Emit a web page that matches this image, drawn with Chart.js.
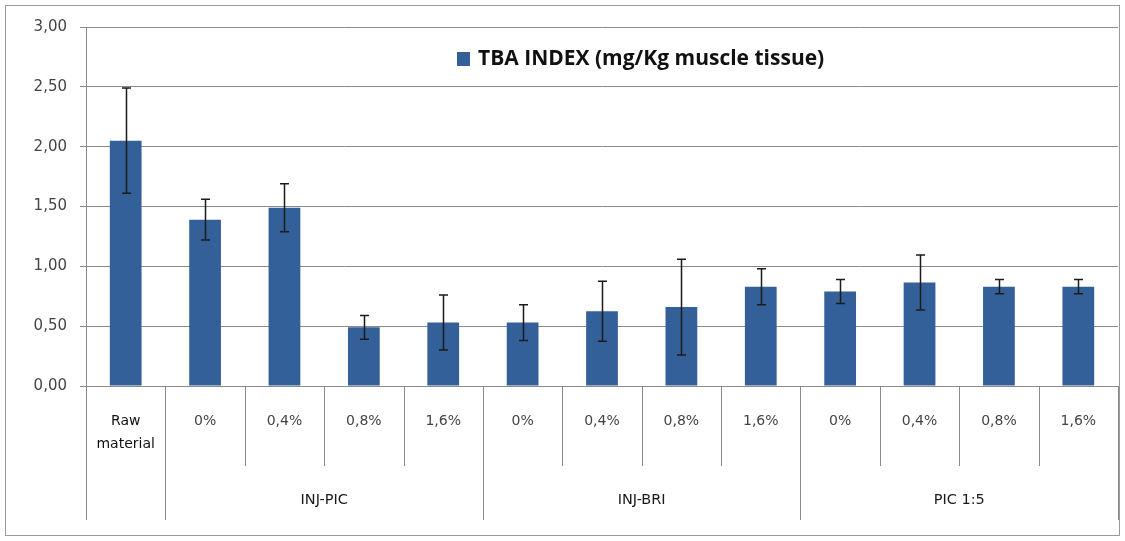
<!DOCTYPE html>
<html>
<head>
<meta charset="utf-8">
<script src="https://cdn.jsdelivr.net/npm/chart.js@4/dist/chart.umd.min.js"></script>
<style>
  html, body { margin: 0; padding: 0; background: #fff; }
  #wrap { width: 1125px; height: 541px; position: relative; }
</style>
</head>
<body>
<div id="wrap"><canvas id="myChart" width="1125" height="541"></canvas></div>
<script>
var categories = [['Raw', 'material'], '0%', '0,4%', '0,8%', '1,6%', '0%', '0,4%', '0,8%', '1,6%', '0%', '0,4%', '0,8%', '1,6%'];
var groupNames = ['INJ-PIC', 'INJ-BRI', 'PIC 1:5'];
var groupStart = [1, 5, 9];
var groupEnd = [5, 9, 13];
var tbaValues = [2.05, 1.39, 1.49, 0.49, 0.53, 0.53, 0.625, 0.66, 0.83, 0.79, 0.865, 0.83, 0.83];
var tbaErrors = [0.44, 0.17, 0.2, 0.1, 0.23, 0.15, 0.25, 0.4, 0.15, 0.1, 0.23, 0.06, 0.06];
var seriesName = 'TBA INDEX (mg/Kg muscle tissue)';
var barColor = '#34609a';
var lineGray = '#8a8a8a';
var baseFont = '"DejaVu Sans", Verdana, sans-serif';

// border round the whole picture
var frame = {
    id: 'frame',
    beforeDraw: function(chart) {
        var c = chart.ctx;
        c.save();
        c.strokeStyle = '#9a9a9a';
        c.lineWidth = 1;
        c.strokeRect(5.5, 5.5, 1114, 530);
        c.restore();
    }
};

// error bars
var errorBars = {
    id: 'errorBars',
    afterDatasetsDraw: function(chart) {
        var c = chart.ctx;
        var y = chart.scales.y;
        var meta = chart.getDatasetMeta(0);
        c.save();
        c.strokeStyle = '#1b1b1b';
        c.lineWidth = 1.5;
        meta.data.forEach(function(bar, i) {
            var top = y.getPixelForValue(tbaValues[i] + tbaErrors[i]);
            var bot = y.getPixelForValue(tbaValues[i] - tbaErrors[i]);
            var x = Math.round(bar.x) + 0.5;
            c.beginPath();
            c.moveTo(x, top); c.lineTo(x, bot);
            c.moveTo(x - 4.5, top); c.lineTo(x + 4.5, top);
            c.moveTo(x - 4.5, bot); c.lineTo(x + 4.5, bot);
            c.stroke();
        });
        c.restore();
    }
};

// category separators, group labels and legend
var axisGroups = {
    id: 'axisGroups',
    afterDraw: function(chart) {
        var c = chart.ctx;
        var area = chart.chartArea;
        var n = categories.length;
        var w = (area.right - area.left) / n;
        c.save();
        c.strokeStyle = lineGray;
        c.lineWidth = 1;
        for (var i = 0; i <= n; i++) {
            var xb = Math.round(area.left + i * w) + 0.5;
            var long = i === 0 || groupStart.indexOf(i) >= 0 || i === n;
            c.beginPath();
            c.moveTo(xb, area.bottom);
            c.lineTo(xb, long ? 520 : 466);
            c.stroke();
        }
        c.fillStyle = '#1a1a1a';
        c.font = '14.5px ' + baseFont;
        c.textAlign = 'center';
        c.textBaseline = 'middle';
        for (var g = 0; g < groupNames.length; g++) {
            var cx = area.left + (groupStart[g] + groupEnd[g]) / 2 * w;
            c.fillText(groupNames[g], cx, 500);
        }
        // legend
        c.fillStyle = barColor;
        c.fillRect(457, 52, 13, 14);
        c.fillStyle = '#111';
        c.font = 'bold 21px "Open Sans", Lato, sans-serif';
        c.textAlign = 'left';
        c.fillText(seriesName, 478, 59);
        c.restore();
    }
};

var ctx = document.getElementById('myChart').getContext('2d');
var myChart = new Chart(ctx, {
    type: 'bar',
    data: {
        labels: categories,
        datasets: [{
            label: seriesName,
            data: tbaValues,
            backgroundColor: barColor,
            borderWidth: 0,
            barPercentage: 0.4,
            categoryPercentage: 1.0
        }]
    },
    options: {
        responsive: false,
        animation: false,
        layout: { padding: { top: 27, right: 7, left: 0, bottom: 0 } },
        plugins: { legend: { display: false }, tooltip: { enabled: false } },
        scales: {
            x: {
                afterFit: function(scale) { scale.height = 155; },
                grid: { display: false, drawTicks: false },
                border: { color: lineGray },
                ticks: {
                    padding: 23,
                    maxRotation: 0,
                    autoSkip: false,
                    font: { family: baseFont, size: 14, lineHeight: 1.7 },
                    color: function(c) { return c.index === 0 ? '#111' : '#444'; }
                }
            },
            y: {
                min: 0,
                max: 3,
                afterFit: function(scale) { scale.width = 86; },
                grid: { color: lineGray, tickLength: 6 },
                border: { color: lineGray },
                ticks: {
                    stepSize: 0.5,
                    padding: 13,
                    color: '#444',
                    font: { family: baseFont, size: 15 },
                    callback: function(v) { return v.toFixed(2).replace('.', ','); }
                }
            }
        }
    },
    plugins: [frame, errorBars, axisGroups]
});
</script>
</body>
</html>
